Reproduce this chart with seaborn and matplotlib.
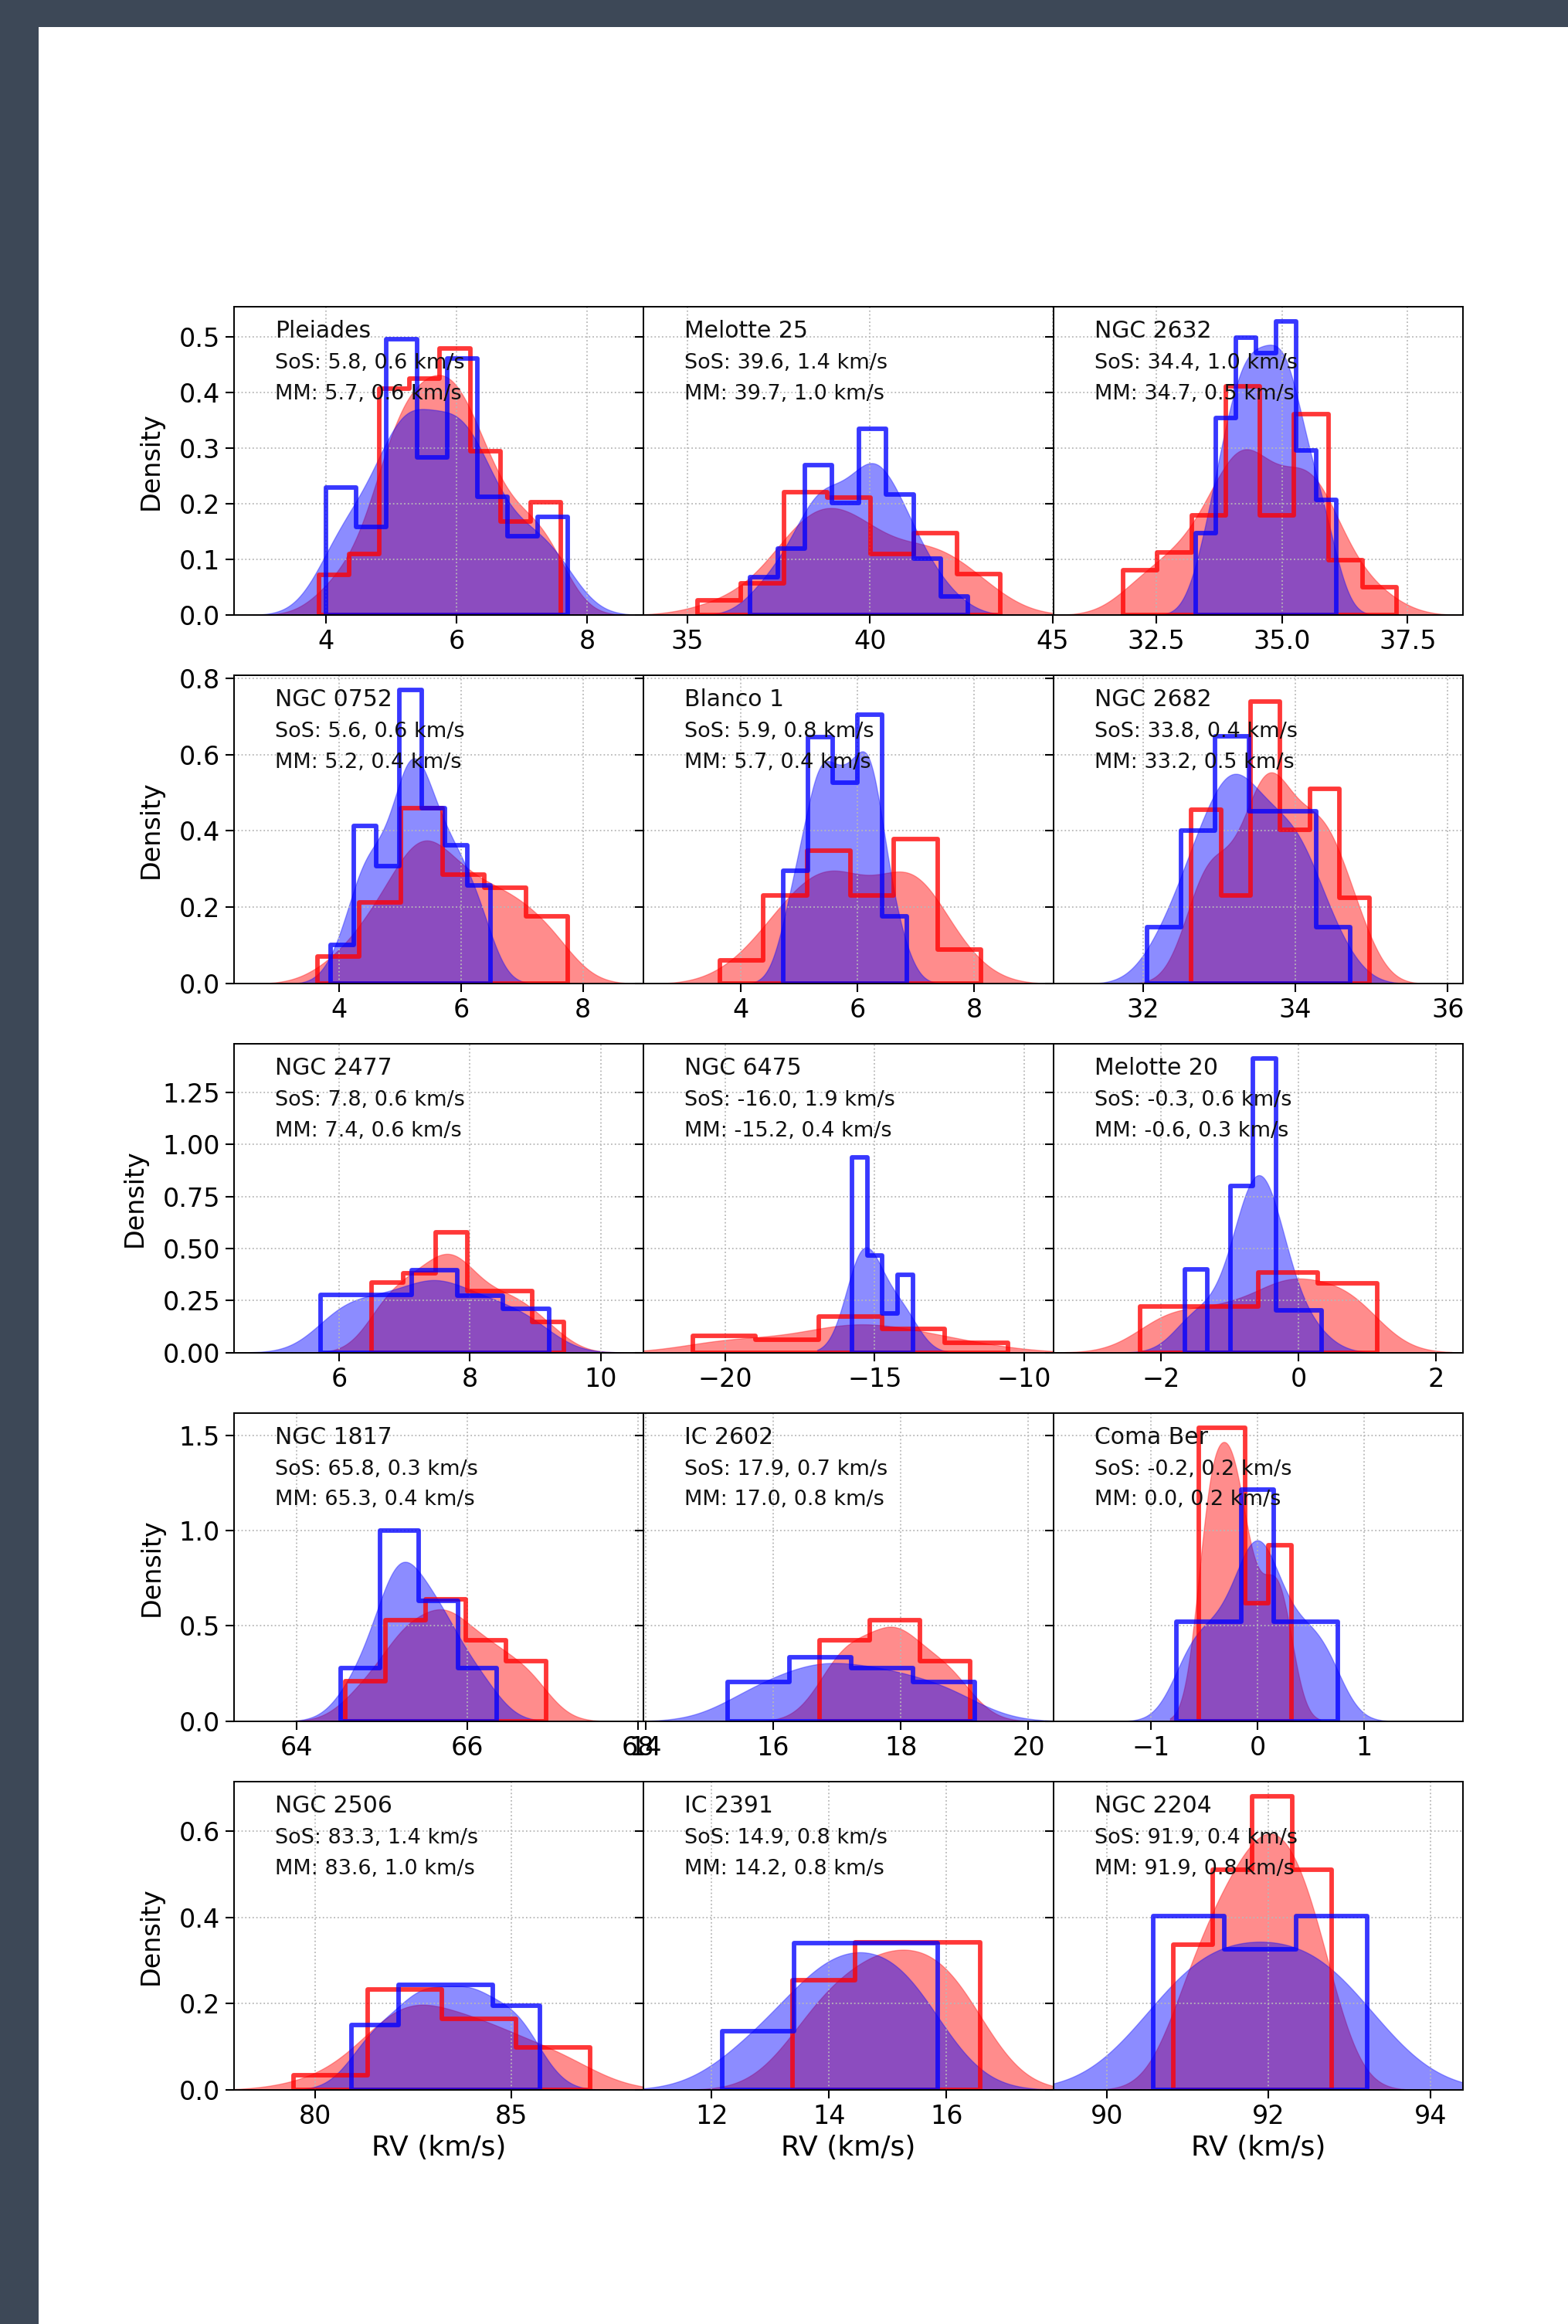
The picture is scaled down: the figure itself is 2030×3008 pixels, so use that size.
import numpy as np
import pandas as pd
import matplotlib
matplotlib.use("Agg")
import matplotlib.pyplot as plt
from matplotlib.ticker import MultipleLocator
from matplotlib.colors import to_rgba
import seaborn as sns

# ---------------- data ----------------
clusters = ["Pleiades", "Melotte 25", "NGC 2632",
            "NGC 0752", "Blanco 1", "NGC 2682",
            "NGC 2477", "NGC 6475", "Melotte 20",
            "NGC 1817", "IC 2602", "Coma Ber",
            "NGC 2506", "IC 2391", "NGC 2204"]

sos_mean = [5.8, 39.6, 34.4, 5.6, 5.9, 33.8, 7.8, -16.0, -0.3, 65.8, 17.9, -0.2, 83.3, 14.9, 91.9]
sos_sd = [0.6, 1.4, 1.0, 0.6, 0.8, 0.4, 0.6, 1.9, 0.6, 0.3, 0.7, 0.2, 1.4, 0.8, 0.4]
mm_mean = [5.7, 39.7, 34.7, 5.2, 5.7, 33.2, 7.4, -15.2, -0.6, 65.3, 17.0, 0.0, 83.6, 14.2, 91.9]
mm_sd = [0.6, 1.0, 0.5, 0.4, 0.4, 0.5, 0.6, 0.4, 0.3, 0.4, 0.8, 0.2, 1.0, 0.8, 0.8]

# MM (blue) histograms: range of the binned data and bin densities
blue_range = [(4.00, 7.71), (36.73, 42.68), (33.28, 36.08),
              (3.86, 6.48), (4.72, 6.85), (32.05, 34.72),
              (5.71, 9.21), (-15.76, -13.73), (-1.66, 0.33),
              (64.52, 66.35), (15.29, 19.16), (-0.76, 0.757),
              (80.93, 85.73), (12.18, 15.85), (90.57, 93.22)]
blue_heights = [
    [0.231, 0.160, 0.499, 0.286, 0.464, 0.214, 0.143, 0.177],
    [0.068, 0.119, 0.269, 0.202, 0.335, 0.217, 0.102, 0.034],
    [0.148, 0.356, 0.501, 0.473, 0.530, 0.297, 0.208],
    [0.102, 0.411, 0.306, 0.766, 0.459, 0.362, 0.257],
    [0.294, 0.643, 0.524, 0.701, 0.175],
    [0.150, 0.403, 0.653, 0.454, 0.454, 0.150],
    [0.279, 0.279, 0.401, 0.276, 0.214],
    [0.943, 0.469, 0.189, 0.376],
    [0.401, 0.0, 0.802, 1.416, 0.202, 0.202],
    [0.281, 1.016, 0.641, 0.281],
    [0.205, 0.333, 0.277, 0.205],
    [0.520, 0.520, 1.212, 0.520, 0.520],
    [0.151, 0.246, 0.246, 0.196],
    [0.136, 0.340, 0.340],
    [0.401, 0.325, 0.401],
]

# SoS (red) histograms
red_range = [(3.89, 7.60), (35.28, 43.56), (31.84, 37.28),
             (3.64, 7.75), (3.64, 8.12), (32.63, 34.97),
             (6.49, 9.44), (-21.08, -10.55), (-2.31, 1.14),
             (64.57, 66.93), (16.73, 19.09), (-0.55, 0.315),
             (79.46, 87.01), (13.38, 16.58), (90.82, 92.78)]
red_heights = [
    [0.073, 0.110, 0.407, 0.425, 0.480, 0.295, 0.168, 0.203],
    [0.027, 0.057, 0.221, 0.211, 0.110, 0.148, 0.074],
    [0.080, 0.111, 0.178, 0.407, 0.178, 0.357, 0.097, 0.049],
    [0.072, 0.213, 0.459, 0.284, 0.251, 0.177],
    [0.062, 0.230, 0.348, 0.230, 0.378, 0.089],
    [0.461, 0.233, 0.745, 0.407, 0.515, 0.228],
    [0.339, 0.382, 0.580, 0.295, 0.295, 0.149],
    [0.080, 0.062, 0.171, 0.112, 0.046],
    [0.220, 0.220, 0.382, 0.332],
    [0.209, 0.529, 0.637, 0.421, 0.313],
    [0.425, 0.533, 0.317],
    [1.534, 1.534, 0.618, 0.919],
    [0.033, 0.231, 0.163, 0.097],
    [0.251, 0.338, 0.338],
    [0.336, 0.508, 0.678, 0.508],
]

# ---------------- axes configuration ----------------
xlims = [(2.59, 8.87), (33.81, 45.02), (30.45, 38.6),
         (2.27, 9.0), (2.33, 9.36), (30.82, 36.2),
         (4.39, 10.66), (-22.72, -9.03), (-3.57, 2.39),
         (63.27, 68.07), (13.97, 20.39), (-1.92, 1.93),
         (77.94, 88.37), (10.84, 17.82), (89.34, 94.4)]
xsteps = [2, 5, 2.5, 2, 2, 2, 2, 5, 2, 2, 2, 1, 5, 2, 2]
ysteps = [0.1, 0.2, 0.25, 0.5, 0.2]
# KDE smoothing per panel (bandwidth multipliers)
bw_blue = [0.6, 0.6, 0.6, 0.6, 0.6, 0.65, 0.6, 0.95, 0.8, 0.7, 0.7, 0.6, 0.6, 0.85, 1.0]
bw_red = [0.6, 0.65, 0.6, 0.6, 0.65, 0.6, 0.6, 0.7, 0.6, 0.6, 0.7, 0.6, 0.7, 0.85, 0.8]

W, H = 2030, 3008
fig = plt.figure(figsize=(W / 100, H / 100), dpi=100, facecolor="#3d4857")
bg = fig.add_axes([50 / W, 0, 1 - 50 / W, 1 - 35 / H], zorder=-10)
bg.set_facecolor("white")
bg.set_xticks([])
bg.set_yticks([])
for s in bg.spines.values():
    s.set_visible(False)

gs = fig.add_gridspec(5, 3, left=303 / W, right=1894 / W,
                      top=1 - 397 / H, bottom=1 - 2705 / H,
                      wspace=0, hspace=0.196)
axes = np.empty((5, 3), dtype=object)
for r in range(5):
    for c in range(3):
        kw = {"sharey": axes[r, 0]} if c > 0 else {}
        axes[r, c] = fig.add_subplot(gs[r, c], **kw)

TXT = "#111111"
for i, name in enumerate(clusters):
    r, c = divmod(i, 3)
    ax = axes[r, c]
    ax.set_facecolor("none")
    series = [("red", red_range[i], red_heights[i], bw_red[i]),
              ("blue", blue_range[i], blue_heights[i], bw_blue[i])]
    frames = []
    for color, rng, hts, bw in series:
        edges = np.linspace(rng[0], rng[1], len(hts) + 1)
        centers = 0.5 * (edges[:-1] + edges[1:])
        df = pd.DataFrame({"rv": centers, "w": hts})
        frames.append((color, [float(e) for e in edges], df))
        sns.kdeplot(data=df, x="rv", weights="w", fill=True, color=color,
                    alpha=0.45, linewidth=1.0,
                    edgecolor=to_rgba(color, 0.35),
                    bw_adjust=bw, ax=ax, zorder=1)
    for color, edges, df in frames:
        sns.histplot(data=df, x="rv", weights="w", bins=edges,
                     stat="density", element="step", fill=True,
                     color=color, facecolor="none",
                     edgecolor=to_rgba(color, 0.78),
                     linewidth=4.2, ax=ax, zorder=2)

    ax.set_xlim(*xlims[i])
    ax.xaxis.set_major_locator(MultipleLocator(xsteps[i]))
    ax.yaxis.set_major_locator(MultipleLocator(ysteps[r]))
    ax.grid(True, linestyle=":", color="#b8b8b8", linewidth=1.3)
    ax.tick_params(axis="both", labelsize=24, length=8, width=1.5,
                   pad=5, colors="black")
    for s in ax.spines.values():
        s.set_linewidth(1.4)
        s.set_color("black")

    ax.text(0.1, 0.9, name, transform=ax.transAxes, fontsize=21.5, color=TXT)
    ax.text(0.1, 0.8, f"SoS: {sos_mean[i]:.1f}, {sos_sd[i]:.1f} km/s",
            transform=ax.transAxes, fontsize=19.5, color=TXT)
    ax.text(0.1, 0.7, f"MM: {mm_mean[i]:.1f}, {mm_sd[i]:.1f} km/s",
            transform=ax.transAxes, fontsize=19.5, color=TXT)

    if c == 0:
        ax.set_ylabel("Density", fontsize=24, labelpad=14)
    else:
        ax.set_ylabel("")
        ax.tick_params(axis="y", labelleft=False)
    if r == 4:
        ax.set_xlabel("RV (km/s)", fontsize=26, labelpad=5)
    else:
        ax.set_xlabel("")

fig.savefig("out.png", dpi=100, facecolor=fig.get_facecolor())
